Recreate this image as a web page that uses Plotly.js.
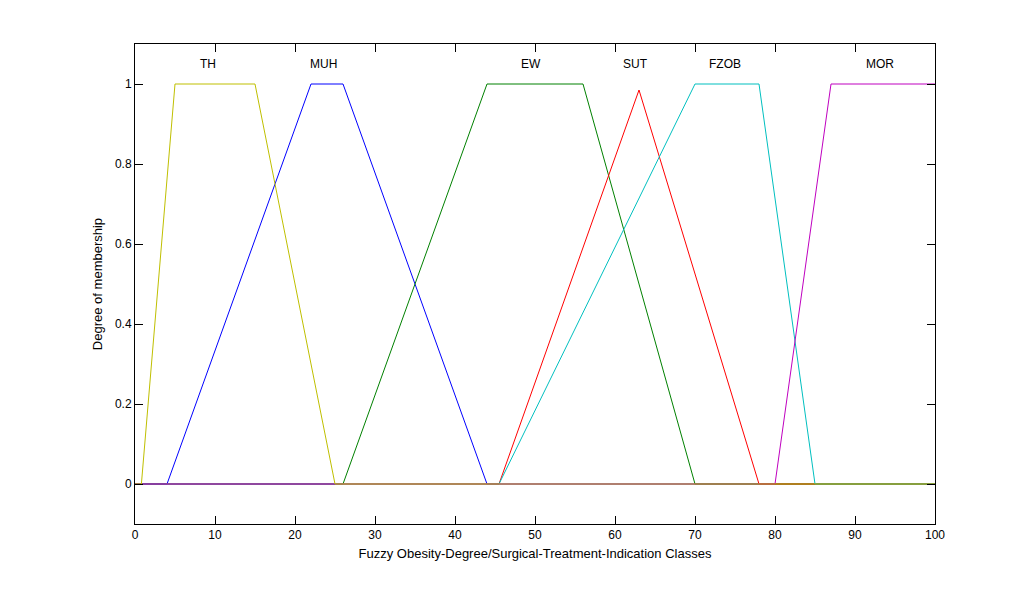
<!DOCTYPE html>
<html>
<head>
<meta charset="utf-8">
<script src="https://cdn.plot.ly/plotly-3.0.1.min.js"></script>
<style>
  html, body { margin: 0; padding: 0; background: #fff; }
  #chart { width: 1033px; height: 590px; }
</style>
</head>
<body>
<div id="chart"></div>
<script>
// membership functions (vertices, x on 0..100)
const muhX = [0, 4, 22, 26, 44, 100];
const muhY = [0, 0, 1, 1, 0, 0];
const ewX = [0, 26, 44, 56, 70, 100];
const ewY = [0, 0, 1, 1, 0, 0];
const sutX = [0, 45.5, 63, 78, 100];
const sutY = [0, 0, 0.985, 0, 0];
const fzobX = [0, 45.5, 70, 78, 85, 100];
const fzobY = [0, 0, 1, 1, 0, 0];
const morX = [0, 80, 87, 100];
const morY = [0, 0, 1, 1];
const thX = [0, 0.8, 5, 15, 25, 100];
const thY = [0, 0, 1, 1, 0, 0];

// class labels above the curves
const labelNames = ["TH", "MUH", "EW", "SUT", "FZOB", "MOR"];
const labelX = [9.1, 23.5, 49.5, 62.6, 73.8, 93.1];
const labelY = 1.05;

const font = "Arial, 'Liberation Sans', sans-serif";

function mf(x, y, color) {
    return {
        x: x, y: y,
        mode: "lines",
        type: "scatter",
        line: {color: color, width: 1},
        hoverinfo: "skip"
    };
}

// same plotting order as the original figure, TH last (on top)
const traces = [
    mf(muhX, muhY, "#0000ff"),
    mf(ewX, ewY, "#008000"),
    mf(sutX, sutY, "#ff0000"),
    mf(fzobX, fzobY, "#00bfbf"),
    mf(morX, morY, "#bf00bf"),
    mf(thX, thY, "#bfbf00")
];

const annotations = labelNames.map((name, i) => ({
    x: labelX[i], y: labelY,
    xref: "x", yref: "y",
    text: name,
    showarrow: false,
    font: {family: font, size: 12, color: "#000"}
}));

const axisStyle = {
    showline: true,
    linecolor: "#000",
    linewidth: 1,
    mirror: "ticks",
    ticks: "inside",
    ticklen: 8,
    tickcolor: "#000",
    showgrid: false,
    zeroline: false,
    tickfont: {family: font, size: 12, color: "#000"}
};

const layout = {
    width: 1033,
    height: 590,
    margin: {l: 135, r: 98, t: 44, b: 66},
    paper_bgcolor: "#fff",
    plot_bgcolor: "#fff",
    showlegend: false,
    xaxis: Object.assign({}, axisStyle, {
        range: [0, 100],
        dtick: 10,
        tick0: 0,
        title: {text: "Fuzzy Obesity-Degree/Surgical-Treatment-Indication Classes",
                font: {family: font, size: 13, color: "#000"}, standoff: 7}
    }),
    yaxis: Object.assign({}, axisStyle, {
        range: [-0.1, 1.1],
        dtick: 0.2,
        tick0: 0,
        title: {text: "Degree of membership",
                font: {family: font, size: 13, color: "#000"}, standoff: 9}
    }),
    annotations: annotations
};

Plotly.newPlot("chart", traces, layout, {staticPlot: true});
</script>
</body>
</html>
